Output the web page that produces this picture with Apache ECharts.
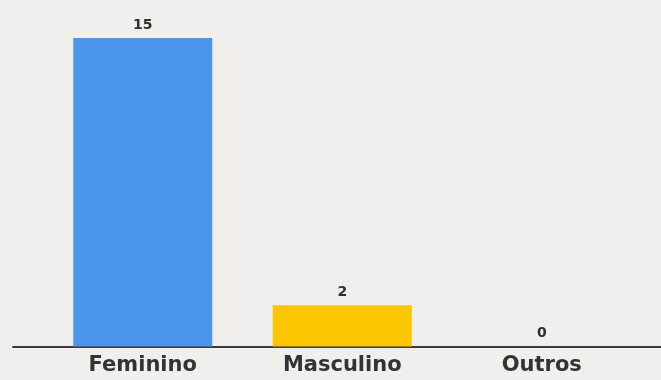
<!DOCTYPE html>
<html>
<head>
<meta charset="utf-8">
<script src="https://cdn.jsdelivr.net/npm/echarts@6/dist/echarts.min.js"></script>
<style>
  html, body { margin: 0; padding: 0; background: #f1efeb; }
  #chart { width: 661px; height: 380px; }
</style>
</head>
<body>
<div id="chart"></div>
<script>
// Respondents by gender
const categories = ['Feminino', 'Masculino', 'Outros'];
const counts = [15, 2, 0];
const barColors = ['#4b96ec', '#fbc500', '#9e9e9e'];

const FONT = 'DejaVu Sans';

const chart = echarts.init(document.getElementById('chart'));
chart.setOption({
  backgroundColor: '#f1efeb',
  animation: false,
  grid: [
    { left: 43, right: 19.5, top: 38, bottom: 33.5 },
    { left: 13, right: 0, top: 38, bottom: 33.5 }
  ],
  xAxis: [
    {
      type: 'category',
      gridIndex: 0,
      data: categories,
      axisLine: { show: false },
      axisTick: { show: false },
      axisLabel: {
        color: '#333333',
        fontFamily: FONT,
        fontSize: 21,
        fontWeight: 'bold',
        margin: 9
      }
    },
    {
      type: 'category',
      gridIndex: 1,
      data: [],
      axisLine: { show: true, lineStyle: { color: '#3a3a3a', width: 2 } },
      axisTick: { show: false },
      axisLabel: { show: false }
    }
  ],
  yAxis: [
    { type: 'value', gridIndex: 0, min: 0, max: 15, show: false },
    { type: 'value', gridIndex: 1, show: false }
  ],
  series: [{
    type: 'bar',
    xAxisIndex: 0,
    yAxisIndex: 0,
    barWidth: 139,
    data: counts.map((v, i) => ({ value: v, itemStyle: { color: barColors[i] } })),
    label: {
      show: true,
      position: 'top',
      distance: 6,
      color: '#2e2e2e',
      fontFamily: FONT,
      fontSize: 14,
      fontWeight: 'bold'
    }
  }]
});
</script>
</body>
</html>
